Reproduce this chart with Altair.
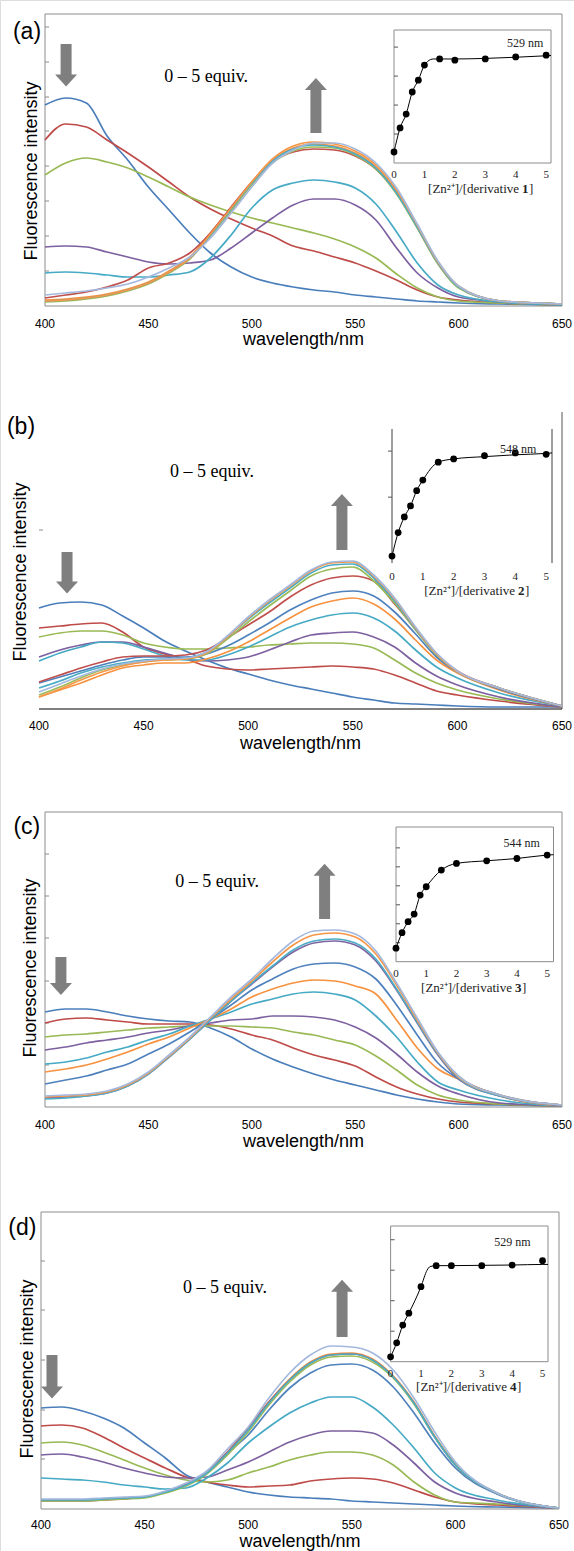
import altair as alt
import pandas as pd

# ---------------------------------------------------------------- data
WL = [400, 410, 420, 430, 440, 450, 460, 470, 480, 490, 500, 510,
      520, 530, 540, 550, 560, 570, 580, 590, 600, 620, 650]
XTICKS = [400, 450, 500, 550, 600, 650]
INSET_XTICKS = [0, 1, 2, 3, 4, 5]

# panel (a) spectra (arbitrary intensity units)
A0 = [201, 208, 203, 170, 146, 119, 96, 73, 53, 39, 29, 23, 19, 16, 14, 11, 9, 7, 5, 4, 3, 2, 1]
A1 = [166, 182, 179, 166, 153, 139, 124, 109, 97, 87, 78, 70, 60, 55, 49, 43, 35, 26, 16, 9, 6, 3, 1]
A2 = [131, 143, 148, 144, 138, 129, 119, 109, 101, 94, 88, 83, 78, 73, 67, 59, 48, 32, 18, 9, 5, 3, 1]
A3 = [59, 60, 59, 54, 49, 44, 42, 43, 46, 58, 73, 88, 101, 107, 107, 101, 86, 58, 33, 18, 9, 4, 1]
A4 = [33, 34, 33, 31, 29, 29, 31, 34, 48, 71, 98, 116, 123, 126, 124, 118, 102, 74, 43, 21, 11, 4, 1]
A5 = [6, 7, 9, 12, 17, 24, 35, 49, 73, 98, 124, 146, 158, 162, 160, 153, 139, 114, 79, 43, 19, 5, 2]
A6 = [8, 11, 14, 19, 26, 38, 43, 53, 73, 99, 124, 144, 154, 157, 156, 150, 137, 113, 79, 43, 19, 5, 2]
A7 = [4, 5, 7, 10, 15, 22, 33, 47, 70, 95, 121, 143, 155, 159, 158, 151, 137, 112, 78, 42, 18, 5, 2]
A8 = [5, 6, 8, 11, 16, 23, 34, 48, 71, 97, 123, 145, 157, 161, 159, 152, 138, 113, 79, 43, 19, 5, 2]
A9 = [5, 6, 8, 11, 16, 23, 34, 48, 72, 98, 124, 147, 160, 164, 162, 155, 141, 116, 81, 44, 20, 5, 2]
A10 = [11, 13, 15, 18, 22, 29, 38, 49, 68, 93, 119, 143, 156, 163, 163, 157, 143, 118, 82, 45, 20, 5, 2]

# panel (b)
B0 = [101, 106, 107, 104, 93, 81, 68, 58, 49, 41, 35, 29, 24, 20, 16, 12, 9, 6, 5, 4, 3, 2, 2]
B1 = [81, 83, 85, 86, 77, 62, 55, 50, 43, 40, 39, 40, 41, 42, 43, 42, 40, 34, 26, 18, 14, 8, 2]
B2 = [72, 76, 78, 78, 74, 66, 62, 60, 60, 61, 62, 64, 65, 66, 66, 65, 61, 49, 36, 26, 19, 10, 2]
B3 = [52, 59, 64, 67, 67, 62, 56, 50, 48, 49, 52, 59, 67, 74, 76, 77, 72, 62, 46, 33, 24, 12, 2]
B4 = [48, 56, 62, 67, 66, 60, 53, 49, 49, 54, 62, 72, 82, 89, 94, 96, 91, 78, 59, 42, 31, 16, 3]
B5 = [12, 19, 26, 34, 41, 44, 46, 46, 50, 57, 67, 79, 91, 102, 108, 111, 105, 90, 69, 49, 36, 19, 3]
B6 = [26, 32, 38, 44, 49, 52, 52, 52, 55, 63, 74, 86, 99, 109, 116, 118, 113, 97, 75, 52, 37, 20, 3]
B7 = [27, 34, 41, 47, 52, 53, 53, 54, 59, 71, 84, 97, 112, 124, 131, 133, 128, 105, 80, 55, 38, 21, 3]
B8 = [14, 22, 31, 39, 44, 47, 49, 50, 55, 70, 87, 103, 118, 133, 140, 142, 128, 106, 79, 54, 37, 21, 3]
B9 = [21, 28, 36, 42, 46, 49, 50, 51, 57, 72, 90, 106, 121, 136, 144, 145, 131, 108, 80, 55, 37, 21, 3]
B10 = [12, 20, 29, 37, 43, 47, 49, 50, 56, 72, 91, 108, 123, 138, 146, 147, 133, 110, 81, 55, 37, 21, 3]
B11 = [17, 25, 33, 40, 45, 48, 50, 51, 57, 73, 92, 109, 124, 139, 147, 148, 134, 111, 82, 56, 38, 21, 3]

# panel (c)
C0 = [95, 98, 98, 95, 91, 88, 86, 85, 79, 70, 58, 48, 40, 33, 27, 22, 17, 12, 8, 5, 3, 2, 1]
C1 = [84, 88, 89, 87, 85, 83, 83, 83, 82, 78, 72, 67, 59, 52, 47, 41, 30, 20, 13, 8, 5, 3, 1]
C2 = [70, 72, 73, 75, 77, 79, 80, 81, 81, 81, 80, 79, 75, 72, 67, 62, 51, 37, 22, 12, 7, 3, 1]
C3 = [57, 60, 64, 67, 70, 74, 77, 81, 84, 87, 88, 91, 91, 90, 87, 80, 69, 53, 35, 21, 13, 4, 1]
C4 = [43, 45, 49, 55, 60, 67, 73, 81, 88, 95, 103, 108, 113, 115, 113, 107, 91, 70, 45, 25, 17, 7, 1]
C5 = [35, 38, 42, 48, 55, 63, 70, 79, 88, 98, 110, 118, 124, 127, 126, 121, 113, 87, 59, 38, 28, 11, 1]
C6 = [23, 27, 31, 37, 43, 53, 63, 75, 88, 102, 117, 128, 138, 143, 144, 140, 128, 102, 72, 44, 28, 12, 1]
C7 = [9, 10, 11, 14, 21, 33, 50, 68, 87, 106, 123, 140, 155, 164, 166, 162, 146, 117, 84, 52, 28, 11, 2]
C8 = [8, 9, 11, 14, 21, 33, 50, 68, 87, 106, 124, 141, 157, 166, 168, 164, 148, 118, 85, 53, 29, 11, 2]
C9 = [10, 11, 12, 15, 22, 34, 51, 69, 89, 108, 126, 145, 162, 172, 174, 170, 153, 122, 87, 54, 30, 12, 2]
C10 = [11, 12, 13, 16, 23, 35, 52, 70, 90, 110, 128, 148, 166, 176, 177, 173, 156, 124, 89, 55, 31, 12, 2]

# panel (d)
D0 = [101, 102, 98, 91, 81, 66, 51, 34, 27, 22, 17, 14, 12, 11, 10, 8, 7, 6, 5, 4, 3, 2, 1]
D1 = [83, 84, 81, 72, 61, 51, 41, 32, 27, 24, 22, 23, 24, 28, 30, 31, 30, 26, 19, 12, 7, 4, 1]
D2 = [66, 67, 64, 57, 49, 41, 34, 29, 27, 29, 36, 42, 49, 54, 57, 57, 54, 44, 27, 14, 7, 5, 1]
D3 = [54, 55, 52, 47, 41, 36, 32, 31, 32, 39, 47, 57, 67, 74, 78, 78, 76, 64, 46, 27, 16, 7, 1]
D4 = [31, 30, 29, 27, 24, 22, 20, 21, 31, 46, 66, 82, 96, 106, 112, 112, 102, 84, 61, 36, 21, 9, 1]
D5 = [9, 9, 9, 10, 11, 12, 17, 24, 36, 56, 74, 99, 121, 136, 144, 145, 139, 122, 96, 66, 41, 15, 1]
D6 = [9, 9, 9, 10, 11, 12, 17, 24, 36, 56, 80, 107, 130, 147, 155, 156, 150, 133, 107, 73, 45, 16, 1]
D7 = [8, 8, 8, 9, 10, 12, 17, 25, 37, 57, 81, 107, 129, 146, 154, 155, 149, 132, 106, 72, 44, 16, 1]
D8 = [8, 8, 8, 9, 10, 11, 16, 23, 35, 54, 77, 104, 127, 144, 152, 153, 147, 131, 105, 72, 44, 16, 1]
D9 = [9, 9, 9, 10, 11, 12, 17, 24, 36, 56, 79, 106, 129, 146, 154, 155, 149, 132, 106, 72, 44, 16, 1]
D10 = [10, 10, 10, 11, 12, 13, 18, 26, 38, 60, 82, 111, 136, 154, 163, 162, 156, 139, 111, 77, 47, 16, 1]

# insets: [Zn2+]/[derivative] ratio vs intensity
A_IX = [0, 0.2, 0.4, 0.6, 0.8, 1, 1.5, 2, 3, 4, 5]
A_IY = [0.38, 1.21, 1.69, 2.45, 2.86, 3.38, 3.59, 3.55, 3.59, 3.66, 3.72]
A_FX = [0, 0.2, 0.4, 0.6, 0.8, 1.0, 1.1, 1.2, 1.3, 1.5, 2, 3, 4, 5, 5.16]
A_FY = [0.38, 1.21, 1.69, 2.45, 2.86, 3.38, 3.50, 3.57, 3.59, 3.59, 3.59, 3.61, 3.65, 3.70, 3.71]

B_IX = [0, 0.2, 0.4, 0.6, 0.8, 1, 1.5, 2, 3, 4, 5]
B_IY = [0.72, 1.23, 1.57, 1.81, 2.14, 2.37, 2.76, 2.83, 2.90, 2.96, 2.93]
B_FX = [0, 0.2, 0.4, 0.6, 0.8, 1, 1.5, 2, 3, 4, 5, 5.19]
B_FY = [0.72, 1.23, 1.57, 1.81, 2.14, 2.37, 2.76, 2.83, 2.88, 2.92, 2.95, 2.96]

C_IX = [0, 0.2, 0.4, 0.6, 0.8, 1, 1.5, 2, 3, 4, 5]
C_IY = [0.71, 1.53, 2.11, 2.51, 3.51, 3.95, 4.83, 5.18, 5.32, 5.44, 5.62]
C_FX = [0, 0.2, 0.4, 0.6, 0.8, 1, 1.5, 2, 3, 4, 5, 5.21]
C_FY = [0.71, 1.53, 2.11, 2.51, 3.51, 3.95, 4.83, 5.18, 5.32, 5.44, 5.62, 5.64]

D_IX = [0, 0.2, 0.4, 0.6, 1, 1.5, 2, 3, 4, 5]
D_IY = [0.16, 0.62, 1.20, 1.59, 2.46, 3.15, 3.15, 3.15, 3.17, 3.31]
D_FX = [0, 0.2, 0.4, 0.6, 1.0, 1.2, 1.3, 1.5, 2, 3, 4, 5, 5.18]
D_FY = [0.16, 0.62, 1.20, 1.59, 2.46, 3.00, 3.12, 3.15, 3.15, 3.16, 3.17, 3.19, 3.19]

# ---------------------------------------------------------------- styles
SANS = "Liberation Sans"
SERIF = "Liberation Serif"
ARROW = "#7F7F7F"
FRAME = "#8C8C8C"

BLUE, RED, GREEN, PURPLE, TEAL, ORANGE = "#4A7EBB", "#BE4B48", "#98B954", "#7D60A0", "#46AAC5", "#F69240"
BLUE2, RED2, GREEN2, PURPLE2, TEAL2, ORANGE2 = "#4F81BD", "#C0504D", "#9BBB59", "#8064A2", "#4BACC6", "#F79646"
LIGHTBLUE = "#A4B8DE"

DOWN = "M-1,-0.55L1,-0.55L0,0.55Z"
UP = "M-1,0.55L1,0.55L0,-0.55Z"

PANELS = [
    dict(letter="(a)", series=[A0, A1, A2, A3, A4, A5, A6, A7, A8, A9, A10],
         colors=[BLUE, RED, GREEN, PURPLE, TEAL, ORANGE, RED2, GREEN2, TEAL2, ORANGE2, LIGHTBLUE],
         xr=[45, 562], yr=[306, 14], ymax=292, yticks=[35, 70, 105, 140, 175, 209, 244, 279],
         frame="box", label=(391.3, 274), ytitle=(393.7, 135), equiv=(477.9, 229),
         arrows=[(DOWN, 410.2, 262, 230, 225.5), (UP, 531.0, 173, 217, 222)],
         xlab_dy=18, xtitle_dy=34,
         inset=dict(xr=[394, 551], yr=[163, 30], xmax=5.16, ymin=0, ymax=4.59,
                    ix=A_IX, iy=A_IY, fx=A_FX, fy=A_FY, yticks=[1, 2, 3, 4], tick_off=4,
                    frame="box", nm="529 nm", nm_pos=(4.31, 4.14), num="1",
                    title_x=2.86, lab_dy=12, title_dy=26)),
    dict(letter="(b)", series=[B0, B1, B2, B3, B4, B5, B6, B7, B8, B9, B10, B11],
         colors=[BLUE, RED, GREEN, PURPLE, TEAL, ORANGE, BLUE2, RED2, GREEN2, TEAL2, ORANGE2, LIGHTBLUE],
         xr=[39, 562], yr=[709, 412], ymax=297, yticks=[179],
         frame="open", label=(391.4, 282), ytitle=(391.3, 137), equiv=(482.7, 237),
         arrows=[(DOWN, 413.4, 157, 126, 121.5), (UP, 544.8, 159, 204, 209)],
         xlab_dy=17, xtitle_dy=35,
         inset=dict(xr=[392, 552], yr=[563, 429], xmax=5.19, ymin=0.57, ymax=3.48,
                    ix=B_IX, iy=B_IY, fx=B_FX, fy=B_FY, yticks=[2, 3], tick_off=-4,
                    frame="sides", nm="548 nm", nm_pos=(4.09, 3.04), num="2",
                    title_x=2.76, lab_dy=14, title_dy=28)),
    dict(letter="(c)", series=[C0, C1, C2, C3, C4, C5, C6, C7, C8, C9, C10],
         colors=[BLUE, RED, GREEN, PURPLE, TEAL, ORANGE, BLUE2, PURPLE2, TEAL2, ORANGE2, LIGHTBLUE],
         xr=[45, 562], yr=[1107, 812], ymax=295, yticks=[42, 84, 126, 169, 211, 253],
         frame="box", label=(391.2, 280), ytitle=(393.2, 139), equiv=(483.2, 225),
         arrows=[(DOWN, 407.7, 150, 124, 118), (UP, 535.2, 188, 232, 237.3)],
         xlab_dy=18, xtitle_dy=35,
         inset=dict(xr=[396, 553.5], yr=[961.7, 827], xmax=5.21, ymin=0, ymax=7.1,
                    ix=C_IX, iy=C_IY, fx=C_FX, fy=C_FY, yticks=[1, 2, 3, 4, 5, 6], tick_off=4,
                    frame="box", nm="544 nm", nm_pos=(4.16, 6.26), num="3",
                    title_x=2.58, lab_dy=12, title_dy=26)),
    dict(letter="(d)", series=[D0, D1, D2, D3, D4, D5, D6, D7, D8, D9, D10],
         colors=[BLUE, RED, GREEN, PURPLE, TEAL, BLUE2, ORANGE, RED2, GREEN2, TEAL2, LIGHTBLUE],
         xr=[41, 559], yr=[1509, 1212], ymax=297, yticks=[50, 99, 149, 199, 248],
         frame="box", label=(391.0, 281), ytitle=(393.5, 140), equiv=(488.8, 221),
         arrows=[(DOWN, 405.3, 154, 121, 116.5), (UP, 545.3, 172, 218, 223.2)],
         xlab_dy=16, xtitle_dy=33,
         inset=dict(xr=[390.6, 548], yr=[1361.7, 1226], xmax=5.18, ymin=0, ymax=4.45,
                    ix=D_IX, iy=D_IY, fx=D_FX, fy=D_FY, yticks=[1, 2, 3, 4], tick_off=4,
                    frame="box", nm="529 nm", nm_pos=(4.01, 3.93), num="4",
                    title_x=2.58, lab_dy=12, title_dy=25)),
]


def text_chart(X, Y, x, y, t, **kw):
    df = pd.DataFrame({"x": [x], "y": [y], "t": [t]})
    return alt.Chart(df).mark_text(**kw).encode(x=X("x"), y=Y("y"), text="t:N")


def main_layer(p):
    xs = alt.Scale(domain=[400, 650], range=p["xr"], nice=False, zero=False)
    ys = alt.Scale(domain=[0, p["ymax"]], range=p["yr"], nice=False, zero=False)

    def X(f):
        return alt.X(f, type="quantitative", scale=xs, axis=None)

    def Y(f):
        return alt.Y(f, type="quantitative", scale=ys, axis=None)

    layers = []
    if p["frame"] == "box":
        fdf = pd.DataFrame({"x0": [400], "x1": [650], "y0": [0], "y1": [p["ymax"]]})
        layers.append(alt.Chart(fdf).mark_rect(fillOpacity=0, stroke=FRAME, strokeWidth=1)
                      .encode(x=X("x0"), x2="x1", y=Y("y0"), y2="y1"))
    else:
        rdf = pd.DataFrame({"x": [650], "y0": [0], "y1": [p["ymax"]]})
        layers.append(alt.Chart(rdf).mark_rule(color=FRAME, strokeWidth=1.5)
                      .encode(x=X("x"), y=Y("y0"), y2="y1"))
        bdf = pd.DataFrame({"x0": [400], "x1": [650], "y": [0]})
        layers.append(alt.Chart(bdf).mark_rule(color="black", strokeWidth=1)
                      .encode(x=X("x0"), x2="x1", y=Y("y")))
    tdf = pd.DataFrame({"x": [400] * len(p["yticks"]), "y": p["yticks"]})
    layers.append(alt.Chart(tdf).mark_rule(color=FRAME, x2Offset=4)
                  .encode(x=X("x"), x2="x", y=Y("y")))

    rows = []
    for i, (s, c) in enumerate(zip(p["series"], p["colors"])):
        for w, v in zip(WL, s):
            rows.append({"wl": w, "val": v, "key": f"s{i:02d}", "color": c})
    cdf = pd.DataFrame(rows)
    layers.append(alt.Chart(cdf).mark_line(strokeWidth=1.7, interpolate="monotone")
                  .encode(x=X("wl"), y=Y("val"), color=alt.Color("color:N", scale=None),
                          detail="key:N"))

    xl = pd.DataFrame({"x": XTICKS, "y": [0] * len(XTICKS), "t": [str(v) for v in XTICKS]})
    layers.append(alt.Chart(xl).mark_text(font=SANS, fontSize=12, dy=p["xlab_dy"], color="black")
                  .encode(x=X("x"), y=Y("y"), text="t:N"))
    layers.append(text_chart(X, Y, 525, 0, "wavelength/nm", font=SANS, fontSize=18,
                             dy=p["xtitle_dy"], color="black"))
    layers.append(text_chart(X, Y, p["ytitle"][0], p["ytitle"][1], "Fluorescence intensity",
                             font=SANS, fontSize=18, angle=270, color="black"))
    layers.append(text_chart(X, Y, p["label"][0], p["label"][1], p["letter"],
                             font=SANS, fontSize=23, color="black"))
    layers.append(text_chart(X, Y, p["equiv"][0], p["equiv"][1], "0 \u2013 5 equiv.",
                             font=SERIF, fontSize=18, color="black"))

    for shape, x, s0, s1, hc in p["arrows"]:
        sdf = pd.DataFrame({"x": [x], "y0": [s0], "y1": [s1]})
        layers.append(alt.Chart(sdf).mark_rule(color=ARROW, strokeWidth=11)
                      .encode(x=X("x"), y=Y("y0"), y2="y1"))
        hdf = pd.DataFrame({"x": [x], "y": [hc]})
        layers.append(alt.Chart(hdf).mark_point(shape=shape, filled=True, size=484, color=ARROW,
                                                opacity=1, strokeWidth=0)
                      .encode(x=X("x"), y=Y("y")))
    return alt.layer(*layers)


def inset_layer(q):
    xs = alt.Scale(domain=[0, q["xmax"]], range=q["xr"], nice=False, zero=False)
    ys = alt.Scale(domain=[q["ymin"], q["ymax"]], range=q["yr"], nice=False, zero=False)

    def X(f):
        return alt.X(f, type="quantitative", scale=xs, axis=None)

    def Y(f):
        return alt.Y(f, type="quantitative", scale=ys, axis=None)

    layers = []
    if q["frame"] == "box":
        fdf = pd.DataFrame({"x0": [0], "x1": [q["xmax"]], "y0": [q["ymin"]], "y1": [q["ymax"]]})
        layers.append(alt.Chart(fdf).mark_rect(fillOpacity=0, stroke=FRAME, strokeWidth=1)
                      .encode(x=X("x0"), x2="x1", y=Y("y0"), y2="y1"))
    else:
        sdf = pd.DataFrame({"x": [0, q["xmax"]], "y0": [q["ymin"]] * 2, "y1": [q["ymax"]] * 2})
        layers.append(alt.Chart(sdf).mark_rule(color="#404040", strokeWidth=1)
                      .encode(x=X("x"), y=Y("y0"), y2="y1"))
    tdf = pd.DataFrame({"x": [0] * len(q["yticks"]), "y": q["yticks"]})
    layers.append(alt.Chart(tdf).mark_rule(color="#555555", x2Offset=q["tick_off"])
                  .encode(x=X("x"), x2="x", y=Y("y")))

    fit = pd.DataFrame({"x": q["fx"], "y": q["fy"]})
    layers.append(alt.Chart(fit).mark_line(color="black", strokeWidth=1, interpolate="monotone")
                  .encode(x=X("x"), y=Y("y")))
    pts = pd.DataFrame({"x": q["ix"], "y": q["iy"]})
    layers.append(alt.Chart(pts).mark_circle(size=46, color="black", opacity=1)
                  .encode(x=X("x"), y=Y("y")))

    xl = pd.DataFrame({"x": INSET_XTICKS, "y": [q["ymin"]] * len(INSET_XTICKS),
                       "t": [str(v) for v in INSET_XTICKS]})
    layers.append(alt.Chart(xl).mark_text(font=SERIF, fontSize=11, dy=q["lab_dy"], color="#222222")
                  .encode(x=X("x"), y=Y("y"), text="t:N"))
    tx, ty = q["title_x"], q["ymin"]
    layers.append(text_chart(X, Y, tx, ty, "[Zn\u00b2\u207a]/[derivative", font=SERIF, fontSize=13,
                             align="right", dx=38, dy=q["title_dy"], color="#222222"))
    layers.append(text_chart(X, Y, tx, ty, q["num"], font=SERIF, fontSize=13, fontWeight="bold",
                             align="left", dx=41, dy=q["title_dy"], color="#222222"))
    layers.append(text_chart(X, Y, tx, ty, "]", font=SERIF, fontSize=13,
                             align="left", dx=48, dy=q["title_dy"], color="#222222"))
    layers.append(text_chart(X, Y, q["nm_pos"][0], q["nm_pos"][1], q["nm"], font=SERIF,
                             fontSize=12, color="#222222"))
    return alt.layer(*layers)


parts = []
for p in PANELS:
    parts.append(main_layer(p))
    parts.append(inset_layer(p["inset"]))

chart = (
    alt.layer(*parts)
    .resolve_scale(x="independent", y="independent")
    .properties(width=574, height=1551, padding=0,
                autosize=alt.AutoSizeParams(type="none"))
    .configure_view(strokeWidth=0)
    .configure(background="white")
)

chart.save("out.html", embed_options={"renderer": "svg", "actions": False})
